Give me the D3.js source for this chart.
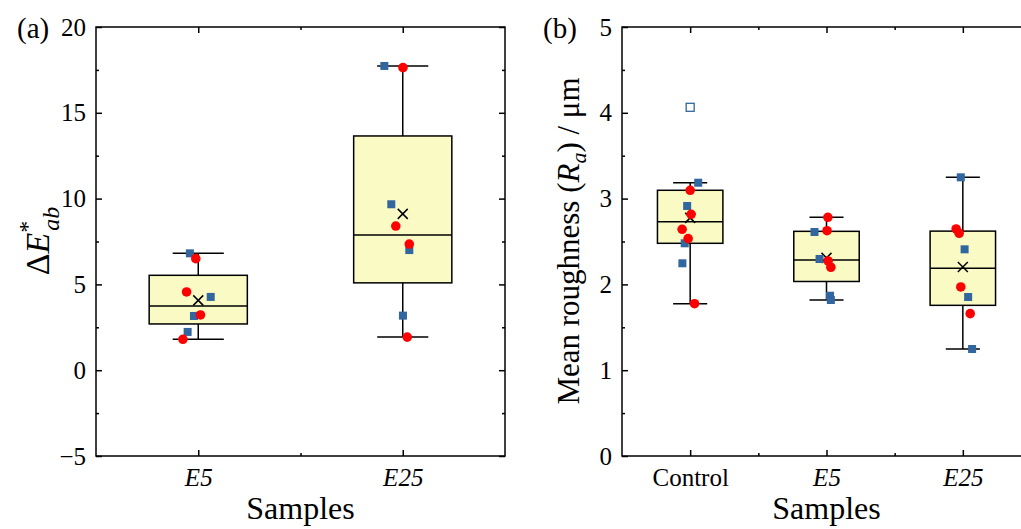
<!DOCTYPE html>
<html>
<head>
<meta charset="utf-8">
<script src="https://cdn.jsdelivr.net/npm/d3@7"></script>
<style>
  body { margin: 0; background: #fff; }
  svg, svg text { font-family: "Liberation Serif", "DejaVu Serif", serif; }
  svg { display: block; }
</style>
</head>
<body>
<div id="container"></div>
<script>
// ---- data (a) colour difference ----
const catsA = ["E5", "E25"];
const dEBlue = [[6.81, 4.27, 3.16, 2.23], [17.73, 9.67, 7.0, 3.18]];
const dERed = [[6.5, 4.56, 3.22, 1.8], [17.63, 8.4, 7.35, 1.93]];
// horizontal jitter (category units)
const jitABlue = [[-0.041, 0.061, -0.021, -0.052], [-0.09, -0.056, 0.032, 0.001]];
const jitARed = [[-0.012, -0.057, 0.011, -0.075], [0.001, -0.034, 0.032, 0.022]];
const ticksA = [-5, 0, 5, 10, 15, 20];
const minorA = [-2.5, 2.5, 7.5, 12.5, 17.5];

// ---- data (b) roughness ----
const catsB = ["Control", "E5", "E25"];
const raBlue = [[4.064, 3.185, 2.914, 2.479, 2.246], [2.611, 2.296, 1.868, 1.818], [3.248, 2.409, 1.853, 1.247]];
const raRed = [[3.097, 2.817, 2.642, 2.533, 1.775], [2.782, 2.626, 2.273, 2.2], [2.646, 2.596, 1.97, 1.659]];
const jitBBlue = [[0, 0.059, -0.022, -0.04, -0.057], [-0.088, -0.051, 0.026, 0.032], [-0.015, 0.013, 0.039, 0.068]];
const jitBRed = [[0, 0.007, -0.059, -0.015, 0.032], [0.01, 0.004, 0.012, 0.032], [-0.049, -0.027, -0.015, 0.054]];
const ticksB = [0, 1, 2, 3, 4, 5];
const minorB = [0.5, 1.5, 2.5, 3.5, 4.5];

const BLUE = "#31669e";
const RED = "#ff0000";
const FILL = "#fafac4";
const SERIF = "'Liberation Serif', 'DejaVu Serif', serif";

const svg = d3.select("#container").append("svg").attr("width", 1021).attr("height", 529);

// Tukey hinges
const median = (s) => {
  const n = s.length;
  return n % 2 ? s[(n - 1) / 2] : (s[n / 2 - 1] + s[n / 2]) / 2;
};
function boxStats(vals) {
  const s = vals.slice().sort((a, b) => a - b);
  const n = s.length;
  const med = median(s);
  const q1 = median(s.slice(0, Math.ceil(n / 2)));
  const q3 = median(s.slice(Math.floor(n / 2)));
  const iqr = q3 - q1;
  const inside = s.filter((v) => v >= q1 - 1.5 * iqr && v <= q3 + 1.5 * iqr);
  return { q1, q3, med, mean: d3.mean(s), lo: d3.min(inside), hi: d3.max(inside), lowF: q1 - 1.5 * iqr, hiF: q3 + 1.5 * iqr };
}

function panel(o) {
  const g = svg.append("g");
  const x = d3.scaleLinear().domain([0.5, o.cats.length + 0.5]).range(o.xr);
  const y = d3.scaleLinear().domain(o.yDomain).range([456, 27]);
  const catIdx = o.cats.map((c, i) => i + 1);
  const catMinor = d3.range(1.5, o.cats.length, 1);

  // boxes
  o.cats.forEach((c, i) => {
    const all = o.blue[i].concat(o.red[i]);
    const st = boxStats(all);
    const cx = x(i + 1);
    const bw = x(0.24) - x(0);
    const cw = x(0.125) - x(0);
    const bg = g.append("g").attr("stroke", "#000").attr("stroke-width", 1.5);
    bg.append("line").attr("x1", cx).attr("x2", cx).attr("y1", y(st.hi)).attr("y2", y(st.lo));
    bg.append("line").attr("x1", cx - cw).attr("x2", cx + cw).attr("y1", y(st.hi)).attr("y2", y(st.hi));
    bg.append("line").attr("x1", cx - cw).attr("x2", cx + cw).attr("y1", y(st.lo)).attr("y2", y(st.lo));
    bg.append("rect").attr("x", cx - bw).attr("width", 2 * bw)
      .attr("y", y(st.q3)).attr("height", y(st.q1) - y(st.q3)).attr("fill", FILL);
    bg.append("line").attr("x1", cx - bw).attr("x2", cx + bw).attr("y1", y(st.med)).attr("y2", y(st.med));
    bg.append("path").attr("transform", `translate(${cx},${y(st.mean)})`)
      .attr("d", "M-5,-5L5,5M-5,5L5,-5").attr("fill", "none");

    // blue squares (open when outside the fences)
    o.blue[i].forEach((v, k) => {
      const out = v > st.hiF || v < st.lowF;
      g.append("rect")
        .attr("x", x(i + 1 + o.jb[i][k]) - 4).attr("y", y(v) - 4)
        .attr("width", 8).attr("height", 8)
        .attr("fill", out ? "#fff" : BLUE)
        .attr("stroke", out ? BLUE : "none").attr("stroke-width", 1.3);
    });
    o.red[i].forEach((v, k) => {
      g.append("circle").attr("cx", x(i + 1 + o.jr[i][k])).attr("cy", y(v)).attr("r", 4.8).attr("fill", RED);
    });
  });

  // frame + axes
  const x0 = o.xr[0], x1 = o.xr[1];
  g.append("rect").attr("x", x0).attr("y", 27).attr("width", x1 - x0).attr("height", 429)
    .attr("fill", "none").attr("stroke", "#000").attr("stroke-width", 1.5);

  const fmtCat = (d) => o.cats[d - 1];
  const axB = g.append("g").attr("transform", "translate(0,456)")
    .call(d3.axisBottom(x).tickValues(catIdx).tickSize(-6).tickPadding(12).tickFormat(fmtCat));
  axB.selectAll("text").attr("font-size", 25).attr("fill", "#000")
    .attr("font-style", (d) => (/^E\d/.test(fmtCat(d)) ? "italic" : "normal"));
  g.append("g").attr("transform", "translate(0,456)")
    .call(d3.axisBottom(x).tickValues(catMinor).tickSize(-3).tickFormat(""));
  g.append("g").attr("transform", "translate(0,27)")
    .call(d3.axisTop(x).tickValues(catIdx).tickSize(-6).tickFormat(""));
  g.append("g").attr("transform", "translate(0,27)")
    .call(d3.axisTop(x).tickValues(catMinor).tickSize(-3).tickFormat(""));

  const axL = g.append("g").attr("transform", `translate(${x0},0)`)
    .call(d3.axisLeft(y).tickValues(o.ticks).tickSize(-6).tickPadding(10).tickFormat((d) => (d < 0 ? "\u2212" + -d : d)));
  axL.selectAll("text").attr("font-size", 25).attr("fill", "#000");
  g.append("g").attr("transform", `translate(${x0},0)`)
    .call(d3.axisLeft(y).tickValues(o.minor).tickSize(-3).tickFormat(""));
  g.append("g").attr("transform", `translate(${x1},0)`)
    .call(d3.axisRight(y).tickValues(o.ticks).tickSize(-6).tickFormat(""));
  g.append("g").attr("transform", `translate(${x1},0)`)
    .call(d3.axisRight(y).tickValues(o.minor).tickSize(-3).tickFormat(""));

  g.selectAll(".domain").remove();
  g.selectAll(".tick line").attr("stroke", "#000").attr("stroke-width", 1.5);
  g.selectAll("g").attr("font-family", SERIF);

  // axis titles
  g.append("text").attr("x", x(0.5 + o.cats.length / 2)).attr("y", 519)
    .attr("text-anchor", "middle").attr("font-size", 32).text("Samples");
  g.append("text").attr("x", o.tag[0]).attr("y", 38).attr("font-size", 29).text(o.tag[1]);
  const yt = g.append("text").attr("text-anchor", "middle")
    .attr("transform", `translate(${o.ytx},241) rotate(-90)`).attr("font-size", o.ytSize);
  o.ytitle(yt);
}

panel({
  cats: catsA, blue: dEBlue, red: dERed, jb: jitABlue, jr: jitARed,
  xr: [96, 505], yDomain: [-5, 20], ticks: ticksA, minor: minorA,
  tag: [17, "(a)"], ytx: 49, ytSize: 34,
  ytitle: (t) => {
    t.append("tspan").text("\u0394");
    t.append("tspan").attr("font-style", "italic").text("E");
    t.append("tspan").attr("font-size", 24).attr("dy", -14).text("*");
    t.append("tspan").attr("font-size", 24).attr("font-style", "italic").attr("dx", -10).attr("dy", 24).text("ab");
  }
});

panel({
  cats: catsB, blue: raBlue, red: raRed, jb: jitBBlue, jr: jitBRed,
  xr: [622, 1031], yDomain: [0, 5], ticks: ticksB, minor: minorB,
  tag: [543, "(b)"], ytx: 579, ytSize: 31,
  ytitle: (t) => {
    t.append("tspan").text("Mean roughness (");
    t.append("tspan").attr("font-style", "italic").text("R");
    t.append("tspan").attr("font-style", "italic").attr("font-size", 22).attr("dy", 7).text("a");
    t.append("tspan").attr("dy", -7).text(") / \u03bcm");
  }
});
</script>
</body>
</html>
